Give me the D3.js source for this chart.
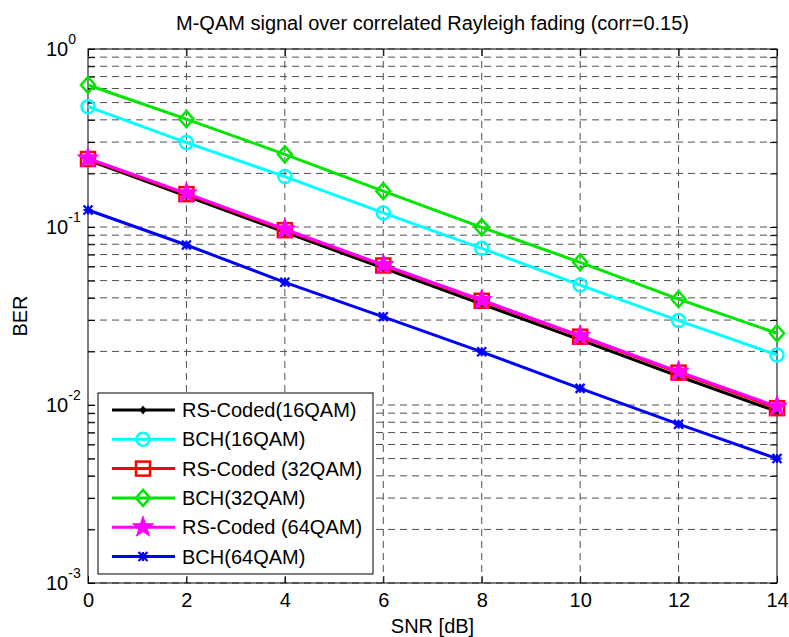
<html>
 <head>
  <meta charset="utf-8">
  <title>M-QAM BER</title>
  <script src="https://d3js.org/d3.v7.min.js"></script>
  <style>
   body { margin: 0; background: #fff; }
   text { font-family: "Liberation Sans", Arial, sans-serif; fill: #000; }
   .grid line { stroke: #505050; stroke-dasharray: 7,5; }
   .axis path, .axis line { stroke: #000; }
  </style>
 </head>
 <body>
  <script>
   // data (BER vs SNR)
   var snr = [0, 2, 4, 6, 8, 10, 12, 14];
   var rs16  = [0.238, 0.149, 0.0935, 0.0587, 0.0369, 0.0232, 0.0145, 0.0092];
   var bch16 = [0.474, 0.298, 0.192, 0.120, 0.0759, 0.0472, 0.0298, 0.0191];
   var rs32  = [0.241, 0.153, 0.096, 0.0608, 0.0385, 0.0242, 0.0152, 0.0096];
   var bch32 = [0.628, 0.404, 0.256, 0.159, 0.0996, 0.0633, 0.0393, 0.0253];
   var rs64  = [0.243, 0.1546, 0.0971, 0.0612, 0.0389, 0.0245, 0.0154, 0.0098];
   var bch64 = [0.1246, 0.0792, 0.0489, 0.0313, 0.0199, 0.0124, 0.0078, 0.0050];
   var names = ["RS-Coded(16QAM)", "BCH(16QAM)", "RS-Coded (32QAM)", "BCH(32QAM)", "RS-Coded (64QAM)", "BCH(64QAM)"];
   var xTicks = [0, 2, 4, 6, 8, 10, 12, 14];
   var yMajor = [1e-3, 1e-2, 1e-1, 1];
   var yExp = ["-3", "-2", "-1", "0"];

   var series = [
    {name: names[0], v: rs16,  color: "#000000", marker: "dot"},
    {name: names[1], v: bch16, color: "#00ffff", marker: "circle"},
    {name: names[2], v: rs32,  color: "#ff0000", marker: "square"},
    {name: names[3], v: bch32, color: "#00e600", marker: "diamond"},
    {name: names[4], v: rs64,  color: "#ff00ff", marker: "star"},
    {name: names[5], v: bch64, color: "#0000ff", marker: "asterisk"}
   ];

   var w = 789, h = 637;
   var L = 88, R = 777, T = 49, B = 583;

   var svg = d3.select("body").append("svg")
               .attr("width", w)
               .attr("height", h);

   var x = d3.scaleLinear().domain([0, 14]).range([L, R]);
   var y = d3.scaleLog().domain([1e-3, 1]).range([B, T]);

   // minor decade ticks 2..9
   var yMinor = [];
   yMajor.slice(0, 3).forEach(function(d) {
    for (var k = 2; k <= 9; k++) yMinor.push(d * k);
   });
   var yAll = yMajor.concat(yMinor);

   // grid
   var grid = svg.append("g").attr("class", "grid");
   grid.selectAll(".gy").data(yAll).enter().append("line")
       .attr("x1", L).attr("x2", R)
       .attr("y1", function(d) { return y(d); })
       .attr("y2", function(d) { return y(d); });
   grid.selectAll(".gx").data(xTicks.slice(1, -1)).enter().append("line")
       .attr("y1", T).attr("y2", B)
       .attr("x1", function(d) { return x(d); })
       .attr("x2", function(d) { return x(d); });

   // axes, ticks pointing inwards
   svg.append("g").attr("class", "axis")
      .attr("transform", "translate(0," + B + ")")
      .call(d3.axisBottom(x).tickValues(xTicks).tickSize(-7).tickPadding(10))
      .call(function(g) {
       g.selectAll("text").style("font-size", "20px").style("font-family", "Liberation Sans, Arial, sans-serif");
      });
   svg.append("g").attr("class", "axis")
      .attr("transform", "translate(0," + T + ")")
      .call(d3.axisTop(x).tickValues(xTicks).tickSize(-7).tickFormat(""));
   svg.append("g").attr("class", "axis")
      .attr("transform", "translate(" + L + ",0)")
      .call(d3.axisLeft(y).tickValues(yAll).tickSize(-7).tickFormat(""));
   svg.append("g").attr("class", "axis")
      .attr("transform", "translate(" + R + ",0)")
      .call(d3.axisRight(y).tickValues(yAll).tickSize(-7).tickFormat(""));
   svg.selectAll(".axis .domain").remove();

   svg.append("rect")
      .attr("x", L).attr("y", T)
      .attr("width", R - L).attr("height", B - T)
      .attr("fill", "none").attr("stroke", "#000");

   // y tick labels 10^n
   var yl = svg.selectAll(".ylab").data(yMajor).enter().append("text")
               .attr("x", 46)
               .attr("y", function(d) { return y(d) + 7; })
               .style("font-size", "20px");
   yl.append("tspan").text("10");
   yl.append("tspan")
     .attr("dy", -12)
     .style("font-size", "14px")
     .text(function(d, i) { return yExp[i]; });

   // markers
   function marker(g, type, cx, cy, color) {
    if (type == "dot") {
     g.append("path")
      .attr("d", "M" + cx + "," + (cy - 4.5) + "L" + (cx + 3.5) + "," + cy + "L" + cx + "," + (cy + 4.5) + "L" + (cx - 3.5) + "," + cy + "Z")
      .attr("fill", color);
    } else if (type == "circle") {
     g.append("circle").attr("cx", cx).attr("cy", cy).attr("r", 6.5)
      .attr("fill", "none").attr("stroke", color).attr("stroke-width", 2.5);
    } else if (type == "square") {
     g.append("rect").attr("x", cx - 7).attr("y", cy - 7).attr("width", 14).attr("height", 14)
      .attr("fill", "none").attr("stroke", color).attr("stroke-width", 2.5);
    } else if (type == "diamond") {
     g.append("path")
      .attr("d", "M" + cx + "," + (cy - 8) + "L" + (cx + 7) + "," + cy + "L" + cx + "," + (cy + 8) + "L" + (cx - 7) + "," + cy + "Z")
      .attr("fill", "none").attr("stroke", color).attr("stroke-width", 2.5);
    } else if (type == "star") {
     var pts = [];
     for (var k = 0; k < 10; k++) {
      var r = k % 2 == 0 ? 11 : 4.4;
      var a = -Math.PI / 2 + k * Math.PI / 5;
      pts.push([cx + r * Math.cos(a), cy + r * Math.sin(a)]);
     }
     g.append("path").attr("d", "M" + pts.join("L") + "Z")
      .attr("fill", color).attr("stroke", color).attr("stroke-width", 1);
    } else if (type == "asterisk") {
     var s = 4.5;
     g.append("path")
      .attr("d", "M" + (cx - s) + "," + cy + "H" + (cx + s) +
                 "M" + cx + "," + (cy - s) + "V" + (cy + s) +
                 "M" + (cx - s) + "," + (cy - s) + "L" + (cx + s) + "," + (cy + s) +
                 "M" + (cx - s) + "," + (cy + s) + "L" + (cx + s) + "," + (cy - s))
      .attr("stroke", color).attr("stroke-width", 2.2).attr("fill", "none");
    }
   }

   var line = d3.line()
                .x(function(d, i) { return x(snr[i]); })
                .y(function(d) { return y(d); });

   series.forEach(function(s) {
    var g = svg.append("g");
    g.append("path").attr("d", line(s.v))
     .attr("fill", "none").attr("stroke", s.color).attr("stroke-width", 3);
    s.v.forEach(function(d, i) { marker(g, s.marker, x(snr[i]), y(d), s.color); });
   });

   // legend
   var lg = svg.append("g");
   lg.append("rect")
     .attr("x", 98).attr("y", 393).attr("width", 275).attr("height", 181)
     .attr("fill", "#fff").attr("stroke", "#000");
   series.forEach(function(s, i) {
    var ly = 410 + i * 29.3;
    lg.append("line").attr("x1", 112).attr("x2", 175).attr("y1", ly).attr("y2", ly)
      .attr("stroke", s.color).attr("stroke-width", 3);
    marker(lg, s.marker, 143, ly, s.color);
    lg.append("text").attr("x", 182).attr("y", ly + 7)
      .style("font-size", "20px").text(s.name);
   });

   // titles
   svg.append("text").attr("x", (L + R) / 2).attr("y", 30)
      .attr("text-anchor", "middle").style("font-size", "20px")
      .text("M-QAM signal over correlated Rayleigh fading (corr=0.15)");
   svg.append("text").attr("x", (L + R) / 2).attr("y", 633)
      .attr("text-anchor", "middle").style("font-size", "20px")
      .text("SNR [dB]");
   svg.append("text")
      .attr("transform", "translate(27," + (T + B) / 2 + ") rotate(-90)")
      .attr("text-anchor", "middle").style("font-size", "20px")
      .text("BER");
  </script>
 </body>
</html>
